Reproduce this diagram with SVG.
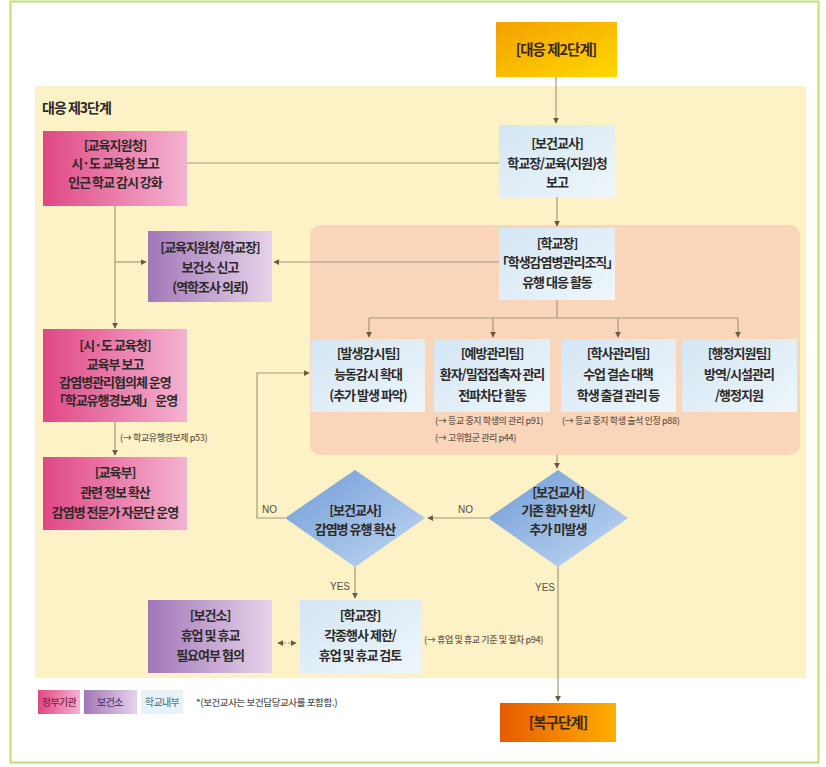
<svg xmlns="http://www.w3.org/2000/svg" width="826" height="767" viewBox="0 0 826 767">
<style>
  text { font-family: "Noto Sans CJK KR", "Noto Sans", sans-serif; font-weight: 700; fill: #2e2a28; }
  .t { font-size: 13px; letter-spacing: -1px; text-anchor: middle; }
  .h { font-size: 14.5px; letter-spacing: -1px; text-anchor: middle; fill: #3a2810; }
  .note { font-size: 9px; font-weight: 500; letter-spacing: -0.4px; fill: #6e5a4e; }
  .lbl { font-family: "Liberation Sans", Arial, sans-serif; font-size: 10px; font-weight: 400; fill: #5a5040; }
  .leg { font-size: 10px; font-weight: 500; letter-spacing: -0.6px; text-anchor: middle; }
  .ln { fill: none; stroke: #a8987c; stroke-width: 1.2; }
  .arr { marker-end: url(#ah); }
</style>
<defs>
  <marker id="ah" viewBox="0 0 8 8" refX="7" refY="4" markerWidth="6" markerHeight="6" markerUnits="userSpaceOnUse" orient="auto">
    <path d="M0,0 L8,4 L0,8 z" fill="#6b5a45"/>
  </marker>
  <marker id="ahs" viewBox="0 0 8 8" refX="1" refY="4" markerWidth="6" markerHeight="6" markerUnits="userSpaceOnUse" orient="auto">
    <path d="M8,0 L0,4 L8,8 z" fill="#6b5a45"/>
  </marker>
  <linearGradient id="gPink" x1="0" y1="0" x2="1" y2="0">
    <stop offset="0" stop-color="#e04784"/>
    <stop offset="1" stop-color="#f4b3d0"/>
  </linearGradient>
  <linearGradient id="gPurple" x1="0" y1="0" x2="1" y2="0">
    <stop offset="0" stop-color="#a177b8"/>
    <stop offset="1" stop-color="#e6d3ea"/>
  </linearGradient>
  <linearGradient id="gBlue" x1="0" y1="0" x2="1" y2="1">
    <stop offset="0" stop-color="#d3e6f4"/>
    <stop offset="1" stop-color="#eef6fb"/>
  </linearGradient>
  <linearGradient id="gDia" x1="0" y1="0" x2="1" y2="1">
    <stop offset="0" stop-color="#6f9bd6"/>
    <stop offset="1" stop-color="#c3d9f2"/>
  </linearGradient>
  <linearGradient id="gTop" x1="0" y1="0" x2="1" y2="1">
    <stop offset="0" stop-color="#f3a000"/>
    <stop offset="1" stop-color="#ffd800"/>
  </linearGradient>
  <linearGradient id="gBot" x1="0" y1="0" x2="1" y2="0">
    <stop offset="0" stop-color="#e65a00"/>
    <stop offset="1" stop-color="#ffae00"/>
  </linearGradient>
</defs>

<rect x="0" y="0" width="826" height="767" fill="#ffffff"/>
<rect x="10.5" y="1.5" width="808" height="761" fill="#ffffff" stroke="#c3dd76" stroke-width="2"/>

<!-- background regions -->
<rect x="35" y="86" width="771" height="592" fill="#fdf1c6"/>
<rect x="310" y="225" width="490" height="230" rx="10" fill="#f9d6ba"/>
<text x="42" y="113" style="font-size:14px;letter-spacing:-1px;fill:#2a2a2a">대응 제3단계</text>

<!-- connectors -->
<g id="connectors">
  <path class="ln arr" d="M556,77 V123"/>
  <path class="ln" d="M187,163 H499"/>
  <path class="ln arr" d="M557,197 V226"/>
  <path class="ln arr" d="M499,262 H274"/>
  <path class="ln arr" d="M115,206 V328"/>
  <path class="ln arr" d="M115,262 H146"/>
  <path class="ln arr" d="M115,422 V455"/>
  <path class="ln" d="M557,300 V318 M369,318 H738"/>
  <path class="ln arr" d="M369,318 V337"/>
  <path class="ln arr" d="M493,318 V337"/>
  <path class="ln arr" d="M618,318 V337"/>
  <path class="ln arr" d="M738,318 V337"/>
  <path class="ln arr" d="M557,455 V468"/>
  <path class="ln arr" d="M488,518 H428"/>
  <path class="ln arr" d="M285,518 H257 V373 H309"/>
  <path class="ln arr" d="M355,567 V598"/>
  <path class="ln arr" d="M558,567 V701"/>
  <path class="ln arr" d="M278,643 H296" style="stroke-dasharray:3 2;marker-start:url(#ahs)"/>
  <text class="lbl" x="458" y="513">NO</text>
  <text class="lbl" x="262" y="513">NO</text>
  <text class="lbl" x="350" y="590" text-anchor="end">YES</text>
  <text class="lbl" x="535" y="591">YES</text>
</g>

<!-- nodes -->
<g id="stage2">
  <rect x="496" y="22" width="121" height="55" fill="url(#gTop)"/>
  <text class="h" x="556" y="55">[대응 제2단계]</text>
</g>

<g id="edu-support">
  <rect x="43" y="131" width="144" height="75" fill="url(#gPink)"/>
  <text class="t" x="115" y="150">[교육지원청]</text>
  <text class="t" x="115" y="168">시·도 교육청 보고</text>
  <text class="t" x="115" y="187">인근 학교 감시 강화</text>
</g>

<g id="health-teacher-report">
  <rect x="499" y="125" width="116" height="72" fill="url(#gBlue)"/>
  <text class="t" x="557" y="148">[보건교사]</text>
  <text class="t" x="557" y="168">학교장/교육(지원)청</text>
  <text class="t" x="557" y="187">보고</text>
</g>

<g id="health-center-report">
  <rect x="148" y="231" width="124" height="71" fill="url(#gPurple)"/>
  <text class="t" x="210" y="252">[교육지원청/학교장]</text>
  <text class="t" x="210" y="272">보건소 신고</text>
  <text class="t" x="210" y="292">(역학조사 의뢰)</text>
</g>

<g id="principal-org">
  <rect x="499" y="228" width="116" height="72" fill="url(#gBlue)"/>
  <text class="t" x="557" y="248">[학교장]</text>
  <text class="t" x="557" y="267">「학생감염병관리조직」</text>
  <text class="t" x="557" y="287">유행 대응 활동</text>
</g>

<g id="team-surveillance">
  <rect x="311" y="339" width="114" height="73" fill="url(#gBlue)"/>
  <text class="t" x="368" y="358">[발생감시팀]</text>
  <text class="t" x="368" y="379">능동감시 확대</text>
  <text class="t" x="368" y="400">(추가 발생 파악)</text>
</g>

<g id="team-prevention">
  <rect x="434" y="339" width="116" height="73" fill="url(#gBlue)"/>
  <text class="t" x="492" y="358">[예방관리팀]</text>
  <text class="t" x="492" y="379">환자/밀접접촉자 관리</text>
  <text class="t" x="492" y="400">전파차단 활동</text>
</g>

<g id="team-academic">
  <rect x="561" y="339" width="115" height="73" fill="url(#gBlue)"/>
  <text class="t" x="618" y="358">[학사관리팀]</text>
  <text class="t" x="618" y="379">수업 결손 대책</text>
  <text class="t" x="618" y="400">학생 출결 관리 등</text>
</g>

<g id="team-admin">
  <rect x="682" y="339" width="115" height="73" fill="url(#gBlue)"/>
  <text class="t" x="739" y="358">[행정지원팀]</text>
  <text class="t" x="739" y="379">방역/시설관리</text>
  <text class="t" x="739" y="400">/행정지원</text>
</g>

<g id="notes">
  <text class="note" x="435" y="424">(→ 등교 중지 학생의 관리 p91)</text>
  <text class="note" x="435" y="441">(→ 고위험군 관리 p44)</text>
  <text class="note" x="562" y="424">(→ 등교 중지 학생 출석 인정 p88)</text>
  <text class="note" x="120" y="441">(→ 학교유행경보제 p53)</text>
  <text class="note" x="424" y="643">(→ 휴업 및 휴교 기준 및 절차 p94)</text>
</g>

<g id="sido-edu">
  <rect x="43" y="329" width="144" height="93" fill="url(#gPink)"/>
  <text class="t" x="115" y="350">[시·도 교육청]</text>
  <text class="t" x="115" y="369">교육부 보고</text>
  <text class="t" x="115" y="387">감염병관리협의체 운영</text>
  <text class="t" x="115" y="405">「학교유행경보제」 운영</text>
</g>

<g id="ministry">
  <rect x="43" y="457" width="144" height="73" fill="url(#gPink)"/>
  <text class="t" x="115" y="477">[교육부]</text>
  <text class="t" x="115" y="497">관련 정보 확산</text>
  <text class="t" x="115" y="517">감염병 전문가 자문단 운영</text>
</g>

<g id="decision-recovered">
  <polygon points="558,470 628,518 558,567 488,518" fill="url(#gDia)"/>
  <text class="t" x="558" y="497">[보건교사]</text>
  <text class="t" x="558" y="515">기존 환자 완치/</text>
  <text class="t" x="558" y="534">추가 미발생</text>
</g>

<g id="decision-spread">
  <polygon points="355,470 425,518 355,567 285,518" fill="url(#gDia)"/>
  <text class="t" x="355" y="515">[보건교사]</text>
  <text class="t" x="355" y="534">감염병 유행 확산</text>
</g>

<g id="principal-closure">
  <rect x="300" y="600" width="121" height="73" fill="url(#gBlue)"/>
  <text class="t" x="360" y="620">[학교장]</text>
  <text class="t" x="360" y="640">각종행사 제한/</text>
  <text class="t" x="360" y="660">휴업 및 휴교 검토</text>
</g>

<g id="health-center-consult">
  <rect x="148" y="600" width="124" height="73" fill="url(#gPurple)"/>
  <text class="t" x="210" y="620">[보건소]</text>
  <text class="t" x="210" y="640">휴업 및 휴교</text>
  <text class="t" x="210" y="660">필요여부 협의</text>
</g>

<g id="recovery">
  <rect x="500" y="703" width="116" height="39" fill="url(#gBot)"/>
  <text class="h" x="558" y="728">[복구단계]</text>
</g>

<g id="legend">
  <rect x="38" y="690" width="42" height="24" fill="url(#gPink)"/>
  <text class="leg" x="59" y="706" style="fill:#8a1f4a">정부기관</text>
  <rect x="84" y="690" width="53" height="24" fill="url(#gPurple)"/>
  <text class="leg" x="110" y="706" style="fill:#5a3a70">보건소</text>
  <rect x="141" y="690" width="42" height="24" fill="#e8f3f9"/>
  <text class="leg" x="162" y="706" style="fill:#5a7f95">학교내부</text>
  <text class="note" x="196" y="706" style="fill:#555;font-size:9.5px">*(보건교사는 보건담당교사를 포함함.)</text>
</g>
</svg>
